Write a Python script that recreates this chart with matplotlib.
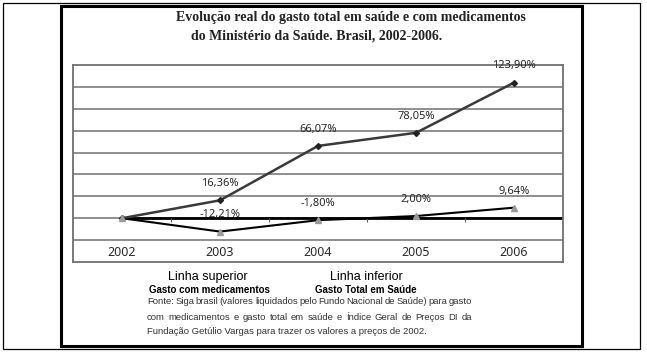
import matplotlib
matplotlib.use('Agg')
import matplotlib.pyplot as plt
from matplotlib.patches import Rectangle

# Data
years = ['2002', '2003', '2004', '2005', '2006']
medicamentos = [0.0, 16.36, 66.07, 78.05, 123.90]
total_saude = [0.0, -12.21, -1.80, 2.00, 9.64]
med_labels = ['', '16,36%', '66,07%', '78,05%', '123,90%']
total_labels = ['', '-12,21%', '-1,80%', '2,00%', '9,64%']

title_1 = 'Evolução real do gasto total em saúde e com medicamentos'
title_2 = 'do Ministério da Saúde. Brasil, 2002-2006.'
fonte_lines = [
    'Fonte: Siga brasil (valores liquidados pelo Fundo Nacional de Saúde) para gasto',
    'com medicamentos e gasto total em saúde e Índice Geral de Preços DI da',
    'Fundação Getúlio Vargas para trazer os valores a preços de 2002.',
]

W, H = 647, 355
fig = plt.figure(figsize=(W / 100, H / 100), dpi=100)


def fx(x):
    return x / W


def fy(y):
    return 1 - y / H


# Outer frames
fig.add_artist(Rectangle((fx(3), fy(349)), fx(640) - fx(3), fy(3) - fy(349),
                         transform=fig.transFigure, fill=False, lw=0.9, ec='black'))
fig.add_artist(Rectangle((fx(61), fy(346)), fx(582) - fx(61), fy(6) - fy(346),
                         transform=fig.transFigure, fill=False, lw=2.2, ec='black'))

# Chart box
ax = fig.add_axes([fx(73), fy(262), fx(563) - fx(73), fy(65) - fy(262)])
ax.set_xlim(-0.5, 4.5)
ax.set_ylim(-40, 140)
for s in ax.spines.values():
    s.set_color('#707070')
    s.set_linewidth(1.3)
ax.set_xticks([])
ax.set_yticks([])

# Gridlines
for g in range(-20, 140, 20):
    ax.axhline(g, color='#707070', lw=1.1, zorder=1)

# Zero axis line from 2002 onward, with small category ticks
ax.hlines(0, 0, 4.5, color='black', lw=2.0, zorder=2)
ax.vlines([0.5, 1.5, 2.5, 3.5], -3, 0, color='#606060', lw=0.8, zorder=2)

x = list(range(len(years)))
ax.plot(x, medicamentos, color='#3a3a3a', lw=1.8, marker='D', ms=3,
        mfc='#222222', mec='#222222', zorder=4)
ax.plot(x, total_saude, color='black', lw=1.5, zorder=3)
ax.plot(x, total_saude, ls='none', marker='^', ms=5, mfc='#9a9a9a',
        mec='#9a9a9a', zorder=5)

for i in x:
    if med_labels[i]:
        ax.annotate(med_labels[i], (i, medicamentos[i]), xytext=(0, 12),
                    textcoords='offset points', ha='center', va='center',
                    fontsize=8, color='#2a2a2a', family='Noto Sans')
    if total_labels[i]:
        ax.annotate(total_labels[i], (i, total_saude[i]), xytext=(0, 12),
                    textcoords='offset points', ha='center', va='center',
                    fontsize=8, color='#2a2a2a', family='Noto Sans')
    ax.text(i, -31, years[i], ha='center', va='center', fontsize=9,
            color='#2a2a2a', family='Noto Sans')

# Title
fig.text(fx(176), fy(17), title_1, ha='left', va='center', fontsize=10,
         family='Liberation Serif', weight='bold', color='#222222')
fig.text(fx(191), fy(36), title_2, ha='left', va='center', fontsize=10,
         family='Liberation Serif', weight='bold', color='#222222')

# Legend-like captions
fig.text(fx(208), fy(277), 'Linha superior', ha='center', va='center',
         fontsize=9, family='Liberation Sans', color='black')
fig.text(fx(209), fy(290), 'Gasto com medicamentos', ha='center', va='center',
         fontsize=7, family='Liberation Sans', weight='bold', color='black')
fig.text(fx(366), fy(277), 'Linha inferior', ha='center', va='center',
         fontsize=9, family='Liberation Sans', color='black')
fig.text(fx(366), fy(290), 'Gasto Total em Saúde', ha='center', va='center',
         fontsize=7, family='Liberation Sans', weight='bold', color='black')

# Source note, first two lines justified
left, right = 147, 472
renderer = fig.canvas.get_renderer()
ys = [302, 317, 331]
fsize = 6.8
for k, line in enumerate(fonte_lines):
    if k == len(fonte_lines) - 1:
        fig.text(fx(left), fy(ys[k]), line, ha='left', va='center',
                 fontsize=fsize, family='Liberation Sans', color='#333333')
        continue
    words = line.split(' ')
    arts = [fig.text(0, fy(ys[k]), w, ha='left', va='center', fontsize=fsize,
                     family='Liberation Sans', color='#333333') for w in words]
    widths = [a.get_window_extent(renderer).width for a in arts]
    gap = (right - left - sum(widths)) / (len(words) - 1)
    pos = left
    for a, w in zip(arts, widths):
        a.set_x(fx(pos))
        pos += w + gap

fig.savefig('out.png', dpi=100)
